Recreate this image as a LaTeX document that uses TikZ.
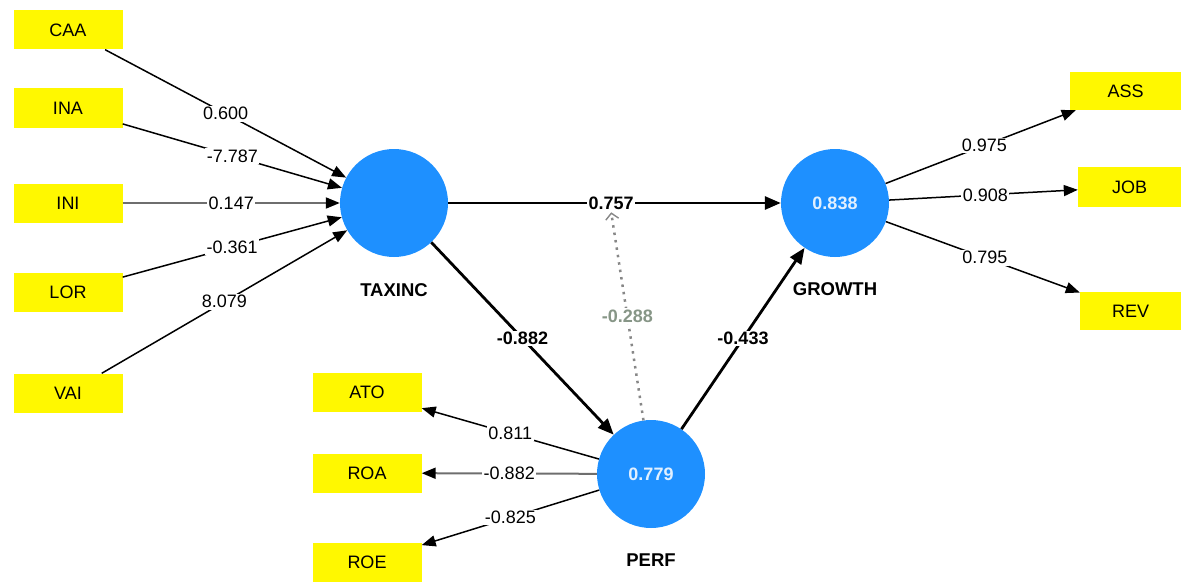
\documentclass[tikz,border=0pt]{standalone}
\usepackage{fontspec}
\setmainfont{Liberation Sans}
\usetikzlibrary{arrows.meta}
\definecolor{lvblue}{RGB}{30,144,255}
\definecolor{lvtext}{RGB}{225,240,255}
\definecolor{indy}{RGB}{255,248,0}
\definecolor{edgegray}{RGB}{110,110,110}
\definecolor{modgray}{RGB}{135,135,135}
\definecolor{modtext}{RGB}{135,150,135}
\begin{document}
\begin{tikzpicture}[x=1pt,y=-1pt,
  ind/.style={fill=indy, minimum width=109pt, minimum height=39pt, inner sep=0pt, font=\fontsize{18}{20}\selectfont},
  lv/.style={circle, fill=lvblue, minimum size=108pt, inner sep=0pt, text=lvtext, font=\fontsize{18}{20}\selectfont\bfseries},
  lvname/.style={font=\fontsize{18.5}{20}\selectfont\bfseries},
  thinedge/.style={line width=1.5pt, -{Triangle[length=14pt,width=11pt,color=black]}},
  greyedge/.style={thinedge, draw=edgegray, line width=2pt},
  thickedge/.style={line width=2.8pt, -{Triangle[length=16pt,width=13pt]}},
  modedge/.style={draw=modgray, line width=2.5pt, dash pattern=on 2.5pt off 5pt, -{Straight Barb[length=6pt,width=13pt,line width=1.4pt]}},
  lab/.style={fill=white, inner sep=1.5pt, font=\fontsize{18}{20}\selectfont},
  blab/.style={lab, font=\fontsize{18}{20}\selectfont\bfseries},
  glab/.style={blab, text=modtext}
]
\useasboundingbox (0,0) rectangle (1181,586);

% indicators
\node[ind] (CAA) at (68,30) {CAA};
\node[ind] (INA) at (68,108) {INA};
\node[ind] (INI) at (68,203) {INI};
\node[ind] (LOR) at (68,292) {LOR};
\node[ind] (VAI) at (68,393) {VAI};
\node[ind] (ATO) at (367,392.5) {ATO};
\node[ind] (ROA) at (367,473) {ROA};
\node[ind] (ROE) at (367,562) {ROE};
\node[ind, minimum width=111pt, minimum height=38pt] (ASS) at (1125.5,91) {ASS};
\node[ind, minimum width=103pt, minimum height=40pt] (JOB) at (1129.5,187) {JOB};
\node[ind, minimum width=101pt, minimum height=38pt] (REV) at (1130.5,311) {REV};

% latent variables
\node[lv] (TAXINC) at (394,203) {};
\node[lv] (GROWTH) at (835,203) {0.838};
\node[lv] (PERF) at (651,474) {0.779};
\node[lvname] (tname) at (394,290) {TAXINC};
\node[lvname] (gname) at (835,289) {GROWTH};
\node[lvname] (pname) at (651,560) {PERF};

% outer model TAXINC
\draw[thinedge] (CAA) -- node[lab]{0.600} (TAXINC);
\draw[thinedge] (INA) -- node[lab]{-7.787} (TAXINC);
\draw[greyedge] (INI) -- node[lab]{0.147} (TAXINC);
\draw[thinedge] (LOR) -- node[lab]{-0.361} (TAXINC);
\draw[thinedge] (VAI) -- node[lab]{8.079} (TAXINC);

% outer model PERF
\draw[thinedge] (PERF) -- node[lab]{0.811} (ATO);
\draw[greyedge] (PERF) -- node[lab]{-0.882} (ROA);
\draw[thinedge] (PERF) -- node[lab]{-0.825} (ROE);

% outer model GROWTH
\draw[thinedge] (GROWTH) -- node[lab, pos=0.52]{0.975} (ASS);
\draw[thinedge] (GROWTH) -- node[lab, pos=0.51]{0.908} (JOB);
\draw[thinedge] (GROWTH) -- node[lab, pos=0.51]{0.795} (REV);

% inner model
\draw[thickedge] (TAXINC) -- node[blab, pos=0.49] (l757) {0.757} (GROWTH);
\draw[thickedge] (TAXINC) -- node[blab]{-0.882} (PERF);
\draw[thickedge] (PERF) -- node[blab]{-0.433} (GROWTH);
\draw[modedge] (PERF.98) -- node[glab]{-0.288} (l757.south);
\end{tikzpicture}
\end{document}
